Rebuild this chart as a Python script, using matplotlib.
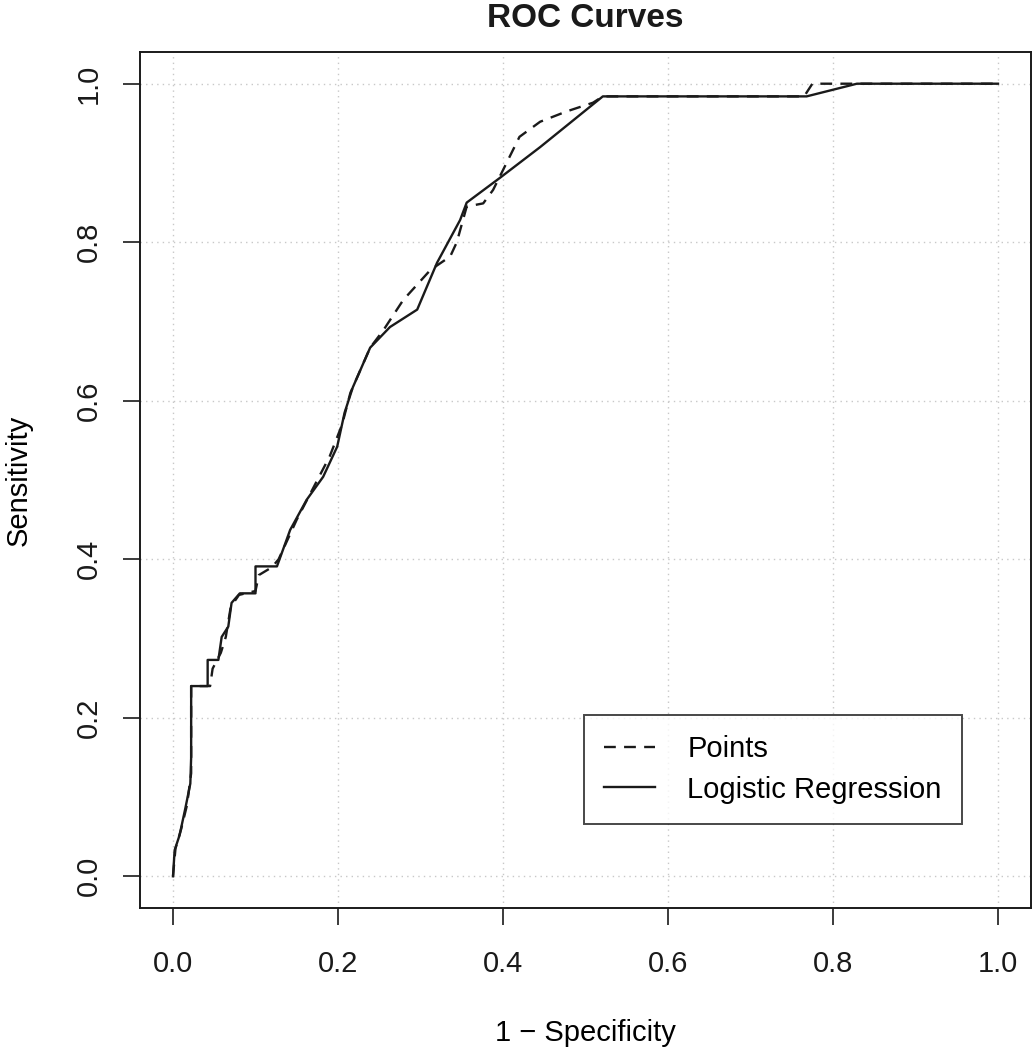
import matplotlib
matplotlib.use("Agg")
import matplotlib.pyplot as plt

plt.rcParams['font.family'] = ['Liberation Sans', 'DejaVu Sans']

# Logistic regression ROC curve (1 - specificity, sensitivity)
logit_fpr = [0, 0.002, 0.008, 0.015, 0.021, 0.022, 0.022, 0.042, 0.042, 0.055, 0.059,
             0.067, 0.071, 0.081, 0.100, 0.100, 0.126, 0.142, 0.162, 0.182, 0.199,
             0.208, 0.218, 0.239, 0.263, 0.296, 0.320, 0.348, 0.356, 0.396, 0.445,
             0.521, 0.768, 0.829, 1.0]
logit_tpr = [0, 0.033, 0.052, 0.086, 0.117, 0.150, 0.240, 0.240, 0.273, 0.273, 0.302,
             0.315, 0.345, 0.357, 0.357, 0.391, 0.391, 0.437, 0.475, 0.504, 0.542,
             0.585, 0.617, 0.667, 0.693, 0.715, 0.774, 0.828, 0.850, 0.881, 0.920,
             0.984, 0.984, 1.0, 1.0]

# Points ROC curve
points_fpr = [0, 0.003, 0.010, 0.017, 0.022, 0.022, 0.045, 0.048, 0.058, 0.064, 0.070,
              0.080, 0.100, 0.104, 0.120, 0.128, 0.150, 0.170, 0.190, 0.205, 0.215,
              0.239, 0.255, 0.279, 0.312, 0.336, 0.344, 0.356, 0.376, 0.388, 0.400,
              0.420, 0.445, 0.477, 0.509, 0.521, 0.765, 0.775, 1.0]
points_tpr = [0, 0.035, 0.060, 0.090, 0.130, 0.240, 0.240, 0.262, 0.282, 0.302, 0.340,
              0.355, 0.360, 0.380, 0.390, 0.400, 0.450, 0.490, 0.530, 0.570, 0.610,
              0.667, 0.689, 0.727, 0.765, 0.782, 0.800, 0.845, 0.849, 0.866, 0.891,
              0.933, 0.952, 0.965, 0.976, 0.984, 0.984, 1.0, 1.0]

ticks = [0.0, 0.2, 0.4, 0.6, 0.8, 1.0]
tick_labels = ["0.0", "0.2", "0.4", "0.6", "0.8", "1.0"]

fig = plt.figure(figsize=(10.33, 10.5), dpi=100)
ax = fig.add_axes([140/1033, 1 - 908/1050, 891/1033, 856/1050])

ax.set_xlim(-0.04, 1.04)
ax.set_ylim(-0.04, 1.04)

for t in ticks:
    ax.axvline(t, color='#c8c8c8', lw=1.0, linestyle=(0, (1, 3)), zorder=0)
    ax.axhline(t, color='#c8c8c8', lw=1.0, linestyle=(0, (1, 3)), zorder=0)

ax.plot(points_fpr, points_tpr, color='#1a1a1a', lw=1.7, linestyle=(0, (5, 3.5)),
        label='Points')
ax.plot(logit_fpr, logit_tpr, color='#1a1a1a', lw=1.7, linestyle='-',
        label='Logistic Regression')

ax.set_xticks(ticks)
ax.set_xticklabels(tick_labels)
ax.set_yticks(ticks)
ax.set_yticklabels(tick_labels, rotation=90, va='center')
ax.tick_params(direction='out', length=12, width=1.2, labelsize=21,
               colors='#1a1a1a')
ax.tick_params(axis='x', pad=18)
ax.tick_params(axis='y', pad=15)
for s in ax.spines.values():
    s.set_linewidth(1.4)
    s.set_color('#1a1a1a')

fig.text(585.5/1033, 1 - 27/1050, 'ROC Curves', fontsize=24, fontweight='bold',
         ha='center', va='baseline', color='#1a1a1a')
ax.set_xlabel('1 \u2212 Specificity', fontsize=21, labelpad=30)
ax.set_ylabel('Sensitivity', fontsize=21, labelpad=30)

leg = ax.legend(loc='upper left', bbox_to_anchor=(0.498, 0.2255), fontsize=21,
                frameon=True, fancybox=False, edgecolor='#1a1a1a',
                handlelength=1.75, handletextpad=1.1, borderpad=0.7,
                labelspacing=0.42, borderaxespad=0)
leg.get_frame().set_linewidth(1.4)

fig.savefig('out.png', dpi=100)
